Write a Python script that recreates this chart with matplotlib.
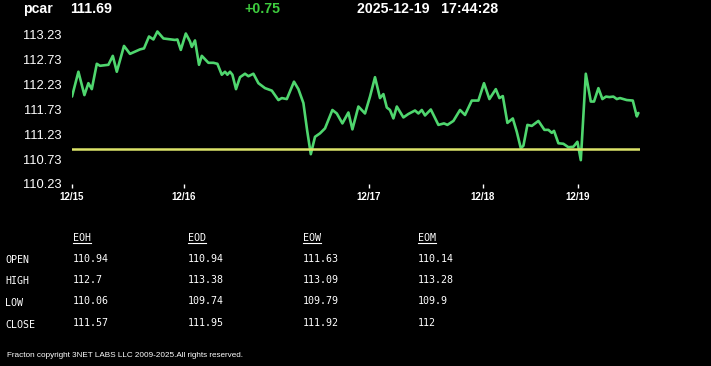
import matplotlib
matplotlib.use("Agg")
import matplotlib.pyplot as plt
from matplotlib.lines import Line2D

# ---- data ----
symbol = "pcar"
last_price = "111.69"
change = "+0.75"
timestamp = "2025-12-19   17:44:28"

bar_index = [0, 3.2, 6.2, 8.2, 9.9, 12.4, 14, 18.2, 20.4, 22.4, 26, 29, 34, 36, 38.5, 40.7,
             42.7, 45.7, 51.5, 52.7, 54.4, 56.9, 59, 59.9, 61.5, 63.5, 64.9, 68.2, 70.7, 72.7,
             74.9, 76.5, 77.7, 79, 80.2, 82, 84, 86.5, 88.2, 90.7, 93.2, 96.5, 99.9, 103.2,
             104.9, 107.4, 111, 113.2, 115.7, 117.6, 119.4, 121.5, 124, 126.5, 130.2, 132.4,
             135.2, 138.2, 140.2, 143.2, 146.5, 149, 151.5, 154, 155.7, 157.4, 159, 160.7,
             162.4, 165.7, 168.2, 171.5, 173.2, 174.9, 176.5, 179.4, 183.2, 186, 187.7, 190.7,
             194, 196.5, 199.9, 203.2, 206, 208.7, 211.9, 213.7, 215.4, 217.7, 220.4, 222.4,
             224.4, 225.7, 227.7, 229.9, 233.2, 236.2, 238.2, 239.9, 241, 243.2, 245.7, 248.2,
             250.7, 252.7, 254.4, 256.9, 259.4, 261, 263.2, 265.2, 267, 268.7, 270.7, 272.4,
             274, 277.4, 280.4, 282.4, 283.2]
prices = [111.99, 112.49, 112.02, 112.26, 112.14, 112.65, 112.61, 112.63, 112.81, 112.49,
          113.01, 112.85, 112.94, 112.96, 113.20, 113.14, 113.30, 113.16, 113.13, 113.14,
          112.93, 113.26, 113.10, 112.99, 113.12, 112.63, 112.81, 112.67, 112.67, 112.65,
          112.43, 112.49, 112.43, 112.49, 112.43, 112.14, 112.38, 112.45, 112.40, 112.45,
          112.26, 112.16, 112.11, 111.92, 111.96, 111.94, 112.29, 112.14, 111.86, 111.30,
          110.83, 111.18, 111.25, 111.35, 111.72, 111.65, 111.45, 111.67, 111.33, 111.79,
          111.65, 111.99, 112.38, 111.96, 112.04, 111.77, 111.72, 111.55, 111.79, 111.57,
          111.64, 111.71, 111.65, 111.72, 111.61, 111.73, 111.42, 111.45, 111.42, 111.50,
          111.72, 111.62, 111.91, 111.91, 112.26, 111.94, 112.14, 111.96, 112.00, 111.46,
          111.55, 111.28, 110.95, 111.00, 111.42, 111.40, 111.50, 111.32, 111.32, 111.26,
          111.30, 111.05, 111.04, 110.97, 110.98, 111.08, 110.71, 112.45, 111.89, 111.89,
          112.16, 111.94, 111.99, 111.98, 111.99, 111.94, 111.96, 111.92, 111.91, 111.59,
          111.66]
open_price = 110.94

y_ticks = [110.23, 110.73, 111.23, 111.73, 112.23, 112.73, 113.23]
x_tick_index = [0, 56, 148.5, 205.5, 253]
x_tick_labels = ["12/15", "12/16", "12/17", "12/18", "12/19"]

col_headers = ["EOH", "EOD", "EOW", "EOM"]
row_labels = ["OPEN", "HIGH", "LOW", "CLOSE"]
table_values = [
    ["110.94", "110.94", "111.63", "110.14"],
    ["112.7", "113.38", "113.09", "113.28"],
    ["110.06", "109.74", "109.79", "109.9"],
    ["111.57", "111.95", "111.92", "112"],
]
footer = "Fracton copyright 3NET LABS LLC 2009-2025.All rights reserved."

# ---- figure ----
W, H = 711, 366
fig = plt.figure(figsize=(W / 100, H / 100), dpi=100, facecolor="black")

def fx(px):
    return px / W

def fy(py):
    return 1 - py / H

ax_left, ax_right, ax_top, ax_bottom = 72, 640, 28, 184
ax = fig.add_axes([fx(ax_left), fy(ax_bottom), fx(ax_right - ax_left), (ax_bottom - ax_top) / H])
ax.set_facecolor("black")
ax.plot(bar_index, prices, color="#4fd66e", lw=1.9, solid_joinstyle="round",
        solid_capstyle="round")
ax.plot([bar_index[0], 284], [open_price, open_price], color="#dde46a", lw=1.8)
ax.set_xlim(0, 284)
ax.set_ylim(110.23, 110.23 + (ax_bottom - ax_top) / 49.67)
for s in ax.spines.values():
    s.set_visible(False)
ax.set_yticks(y_ticks)
ax.set_yticklabels([f"{v:.2f}" for v in y_ticks])
ax.tick_params(axis="y", length=0, pad=7.5, labelcolor="white", labelsize=9.3)
for t in ax.get_yticklabels():
    t.set_family("Liberation Sans")
ax.set_xticks(x_tick_index)
ax.set_xticklabels(x_tick_labels)
ax.tick_params(axis="x", length=3, width=1, color="white", pad=2.5,
               labelcolor="white", labelsize=7)
for t in ax.get_xticklabels():
    t.set_family("Liberation Sans")
    t.set_fontweight("bold")

# header
hdr = dict(color="white", fontsize=10.2, fontweight="bold", family="Liberation Sans",
           va="center", ha="left")
fig.text(fx(23), fy(9), symbol, **hdr)
fig.text(fx(70.5), fy(9), last_price, **hdr)
fig.text(fx(244), fy(9), change, **{**hdr, "color": "#3ecb3e"})
fig.text(fx(357), fy(9), timestamp, **hdr)

# table
mono = dict(color="white", family="DejaVu Sans Mono", fontsize=7.2, va="center", ha="left")
col_x = [73, 188, 303, 418]
header_texts = []
for cx, h in zip(col_x, col_headers):
    header_texts.append(fig.text(fx(cx), fy(238), h, **mono))
row_y = [258.5, 280, 301.5, 323]
for ry, lab, vals in zip(row_y, row_labels, table_values):
    fig.text(fx(5), fy(ry + 1.5), lab, **mono)
    for cx, v in zip(col_x, vals):
        fig.text(fx(cx), fy(ry), v, **mono)

fig.text(fx(7), fy(355.5), footer, color="white", family="Liberation Sans",
         fontsize=5.9, va="center", ha="left")

# underline the column headers
fig.canvas.draw()
renderer = fig.canvas.get_renderer()
inv = fig.transFigure.inverted()
for t in header_texts:
    bb = t.get_window_extent(renderer)
    (x0, y0), (x1, _) = inv.transform([(bb.x0, bb.y0), (bb.x1, bb.y1)])
    fig.add_artist(Line2D([x0, x1], [y0 - 0.5 / H, y0 - 0.5 / H], color="white", lw=0.8,
                          transform=fig.transFigure))

fig.savefig("out.png", dpi=100, facecolor="black")
